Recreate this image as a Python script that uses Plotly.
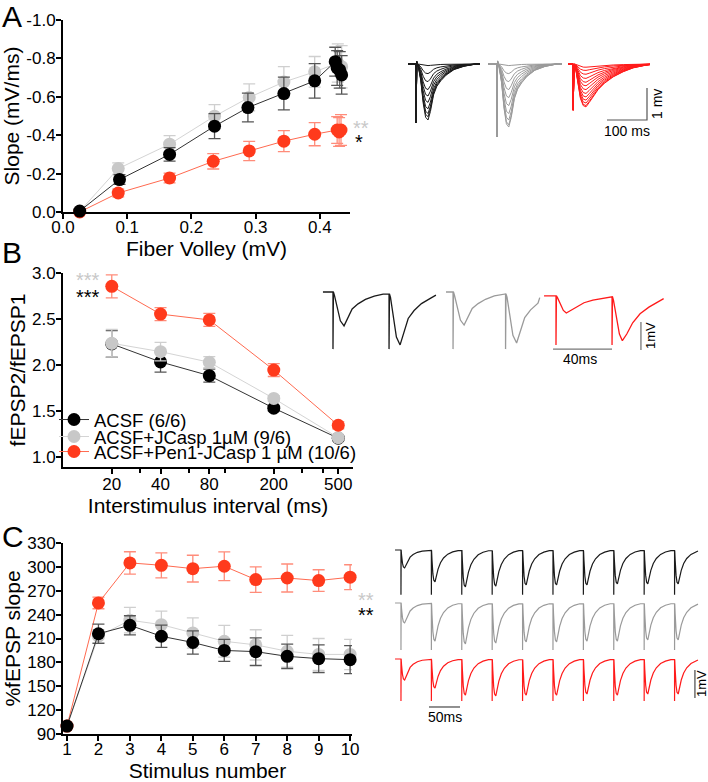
import plotly.graph_objects as go

W, H = 708, 782
FONT = "Arial, 'Liberation Sans', sans-serif"

# ---------------- Panel A: input-output ----------------
A_BLACK_X = [0.026, 0.088, 0.166, 0.236, 0.288, 0.344, 0.392, 0.424, 0.427, 0.431, 0.434]
A_BLACK_Y = [-0.005, -0.169, -0.300, -0.447, -0.544, -0.617, -0.683, -0.783, -0.750, -0.740, -0.714]
A_BLACK_E = [0.01, 0.025, 0.035, 0.065, 0.075, 0.085, 0.09, 0.075, 0.09, 0.095, 0.1]
A_GRAY_X = [0.026, 0.086, 0.166, 0.236, 0.290, 0.344, 0.392, 0.428, 0.434]
A_GRAY_Y = [-0.003, -0.226, -0.353, -0.499, -0.597, -0.677, -0.730, -0.776, -0.757]
A_GRAY_E = [0.01, 0.03, 0.045, 0.06, 0.07, 0.08, 0.08, 0.1, 0.11]
A_RED_X = [0.026, 0.086, 0.166, 0.234, 0.290, 0.344, 0.392, 0.427, 0.430, 0.433]
A_RED_Y = [0.0, -0.099, -0.177, -0.264, -0.318, -0.369, -0.405, -0.427, -0.417, -0.427]
A_RED_E = [0.005, 0.02, 0.025, 0.04, 0.05, 0.055, 0.06, 0.07, 0.075, 0.08]
A_XTICKS = [0.0, 0.1, 0.2, 0.3, 0.4]
A_XTICKTEXT = ["0.0", "0.1", "0.2", "0.3", "0.4"]
A_YTICKS = [0.0, -0.2, -0.4, -0.6, -0.8, -1.0]
A_YTICKTEXT = ["0.0", "-0.2", "-0.4", "-0.6", "-0.8", "-1.0"]

# ---------------- Panel B: paired pulse ----------------
B_ISI = [20, 40, 80, 200, 500]
B_BLACK = [2.229, 2.033, 1.884, 1.531, 1.204]
B_BLACK_E = [0.145, 0.11, 0.07, 0.03, 0.02]
B_GRAY = [2.236, 2.145, 2.030, 1.636, 1.210]
B_GRAY_E = [0.15, 0.10, 0.06, 0.03, 0.02]
B_RED = [2.855, 2.553, 2.490, 1.945, 1.345]
B_RED_E = [0.125, 0.07, 0.07, 0.07, 0.04]
B_XTICKS = [20, 40, 80, 200, 500]
B_MINOR = [30, 60, 100, 300, 400]
B_YTICKS = [1.0, 1.5, 2.0, 2.5, 3.0]

# ---------------- Panel C: train ----------------
C_STIM = [1, 2, 3, 4, 5, 6, 7, 8, 9, 10]
C_BLACK = [100, 216, 226.6, 212.8, 205, 195, 193.5, 187.6, 184.7, 183.4]
C_BLACK_E = [2, 12, 12, 14, 14.7, 13.8, 17.4, 15.3, 17.4, 17.6]
C_GRAY = [100, 212.8, 233, 227.4, 217, 206.5, 202, 194, 190, 190]
C_GRAY_E = [2, 8, 16, 17, 19, 20, 19, 20, 20, 19]
C_RED = [100, 254.7, 305, 302, 297.8, 300.8, 284, 286, 282.8, 287]
C_RED_E = [2, 7.3, 14, 15.7, 16.8, 18, 16, 17.6, 13.6, 15.7]
C_YTICKS = [90, 120, 150, 180, 210, 240, 270, 300, 330]

LEGEND_NAMES = ["ACSF (6/6)", "ACSF+JCasp 1µM (9/6)", "ACSF+Pen1-JCasp 1 µM (10/6)"]

# ---------------- example traces ----------------
# Panel A inset (ms, mV): fEPSP shape templates (time after stimulus, fraction of peak)
IO_TPL_T = [2, 6, 12, 18, 24, 30, 36, 44, 52, 62, 75, 95, 120, 150]
IO_TPL_F = [-0.05, 0.05, 0.3, 0.7, 0.95, 1.0, 0.85, 0.55, 0.4, 0.3, 0.2, 0.1, 0.04, 0.0]
IO_RED_TPL_T = [2, 6, 12, 18, 25, 32, 40, 50, 62, 78, 100, 125, 150, 180]
IO_RED_TPL_F = [0.0, 0.1, 0.45, 0.8, 0.97, 1.0, 0.9, 0.75, 0.6, 0.45, 0.3, 0.18, 0.09, 0.03]
IO_BLACK_AMPS = [0.05, 0.3, 0.55, 0.8, 1.0, 1.2, 1.4, 1.55, 1.65, 1.75]
IO_GRAY_AMPS = [0.05, 0.3, 0.55, 0.8, 1.05, 1.3, 1.55, 1.75, 1.9, 1.97]
IO_RED_AMPS = [0.1, 0.2, 0.32, 0.45, 0.57, 0.68, 0.8, 0.92, 1.03, 1.13, 1.22, 1.3, 1.34]
IO_BLACK_WIN = [20, 40, 200]     # start, stimulus, end (ms)
IO_GRAY_WIN = [220, 242, 405]
IO_RED_WIN = [420, 433, 625]
IO_ART = [1.84, 2.28, 1.44]      # artifact depth black, gray, red
IO_SCALE_T = [517.5, 617.5, 617.5]
IO_SCALE_V = [-1.75, -1.75, -0.75]

# Panel B inset (ms, mV)
PP_TPL_T = [1, 3, 5, 7.5, 10, 13, 17, 22, 28, 34]
PP_TPL_F = [0.1, 0.5, 0.85, 1.0, 0.75, 0.5, 0.35, 0.22, 0.12, 0.06]
PP_RED_TPL_T = [1, 3, 5, 7, 10, 14, 19, 25, 32, 38]
PP_RED_TPL_F = [0.1, 0.5, 0.85, 1.0, 0.85, 0.6, 0.4, 0.25, 0.12, 0.05]
PP_BLACK = dict(start=2, stims=[8.8, 46.8], end=78.6, amps=[1.21, 1.89], art=2.04, base=0.0)
PP_GRAY = dict(start=85.4, stims=[90.2, 125.8], end=149, amps=[1.18, 1.82], art=2.04, base=0.0)
PP_RED = dict(start=151.9, stims=[160, 198], end=233, amps=[0.61, 1.6], art=1.75, base=-0.14)
PP_SCALE_T = [158, 198, None, 217.6, 217.6]
PP_SCALE_V = [-2.04, -2.04, None, -1.07, -2.07]

# Panel C inset (ms, mV)
TR_TPL_T = [1, 2.5, 4, 6, 8, 11, 15, 20, 27, 35, 44]
TR_TPL_F = [0.3, 0.75, 0.95, 1.0, 0.85, 0.6, 0.4, 0.25, 0.13, 0.06, 0.02]
TR_STIMS = [34.5, 84.5, 134.5, 184.5, 234.5, 284.5, 334.5, 384.5, 434.5, 484.5]
TR_BLACK = dict(amps=[0.64, 1.14, 1.32, 1.29, 1.25, 1.25, 1.25, 1.21, 1.21, 1.21], art=1.6, base=0.0)
TR_GRAY = dict(amps=[0.71, 1.36, 1.46, 1.43, 1.39, 1.39, 1.36, 1.36, 1.32, 1.32], art=1.68, base=-1.893)
TR_RED = dict(amps=[0.75, 1.04, 1.29, 1.32, 1.29, 1.29, 1.25, 1.29, 1.25, 1.25], art=1.5, base=-3.893)
TR_WIN = [24.7, 523]
TR_SCALE_T = [80.6, 131.6, None, 518, 518]
TR_SCALE_V = [-5.607, -5.607, None, -4.286, -5.286]

# ---------------- colours ----------------
COL_BLK, COL_GRY, COL_RED = "#000000", "#c8c8c8", "#ff3a1c"
LN_BLK, LN_GRY, LN_RED = "#333333", "#d4d4d4", "#ff6a50"
ER_BLK, ER_GRY, ER_RED = "#555555", "#cfcfcf", "#ff8c7a"
TC_BLK, TC_GRY, TC_RED = "#1a1a1a", "#9a9a9a", "#ff1a1a"


def train(start, stims, end, amps, art, tpl_t, tpl_f, base):
    ts, vs = [start], [base]
    for s, a in zip(stims, amps):
        last = vs[-1]
        ts += [s, s, s + 0.3]
        vs += [last, base - art, last]
        for tt, ff in zip(tpl_t, tpl_f):
            if s + tt < end:
                ts.append(s + tt)
                vs.append(base - a * ff)
    ts.append(end)
    vs.append(vs[-1] * 0.5 + base * 0.5)
    return ts, vs


def sweeps(win, amps, art, tpl_t, tpl_f):
    ts, vs = [], []
    for a in amps:
        t, v = train(win[0], [win[1]], win[2], [a], art, tpl_t, tpl_f, 0.0)
        ts += t + [None]
        vs += v + [None]
    return ts, vs


fig = go.Figure()


def scatter(x, y, e, mc, lc, ec, xa, ya, name=None, legend=None):
    fig.add_trace(go.Scatter(
        x=x, y=y, mode="lines+markers", xaxis=xa, yaxis=ya,
        line=dict(color=lc, width=1),
        marker=dict(color=mc, size=13),
        error_y=dict(type="data", array=e, color=ec, thickness=1.3, width=6),
        cliponaxis=False, name=name or "", showlegend=legend is not None,
        legend=legend or "legend"))


# Panel A
scatter(A_GRAY_X, A_GRAY_Y, A_GRAY_E, COL_GRY, LN_GRY, ER_GRY, "x", "y")
scatter(A_RED_X, A_RED_Y, A_RED_E, COL_RED, LN_RED, ER_RED, "x", "y")
scatter(A_BLACK_X, A_BLACK_Y, A_BLACK_E, COL_BLK, LN_BLK, ER_BLK, "x", "y")
# Panel B
scatter(B_ISI, B_BLACK, B_BLACK_E, COL_BLK, LN_BLK, ER_BLK, "x2", "y2", LEGEND_NAMES[0], "legend")
scatter(B_ISI, B_GRAY, B_GRAY_E, COL_GRY, LN_GRY, ER_GRY, "x2", "y2", LEGEND_NAMES[1], "legend2")
scatter(B_ISI, B_RED, B_RED_E, COL_RED, LN_RED, ER_RED, "x2", "y2", LEGEND_NAMES[2], "legend3")
# Panel C
scatter(C_STIM, C_GRAY, C_GRAY_E, COL_GRY, LN_GRY, ER_GRY, "x3", "y3")
scatter(C_STIM, C_RED, C_RED_E, COL_RED, LN_RED, ER_RED, "x3", "y3")
scatter(C_STIM, C_BLACK, C_BLACK_E, COL_BLK, LN_BLK, ER_BLK, "x3", "y3")


def line(x, y, color, xa, ya, width=1):
    fig.add_trace(go.Scatter(x=x, y=y, mode="lines", xaxis=xa, yaxis=ya,
                             line=dict(color=color, width=width),
                             showlegend=False, hoverinfo="skip", connectgaps=False))


# inset A
t, v = sweeps(IO_BLACK_WIN, IO_BLACK_AMPS, IO_ART[0], IO_TPL_T, IO_TPL_F)
line(t, v, TC_BLK, "x4", "y4")
t, v = sweeps(IO_GRAY_WIN, IO_GRAY_AMPS, IO_ART[1], IO_TPL_T, IO_TPL_F)
line(t, v, TC_GRY, "x4", "y4")
t, v = sweeps(IO_RED_WIN, IO_RED_AMPS, IO_ART[2], IO_RED_TPL_T, IO_RED_TPL_F)
line(t, v, TC_RED, "x4", "y4")
line(IO_SCALE_T, IO_SCALE_V, "#555555", "x4", "y4", 1.2)

# inset B
for d, c, tt, ff in [(PP_BLACK, TC_BLK, PP_TPL_T, PP_TPL_F),
                     (PP_GRAY, TC_GRY, PP_TPL_T, PP_TPL_F),
                     (PP_RED, TC_RED, PP_RED_TPL_T, PP_RED_TPL_F)]:
    t, v = train(d["start"], d["stims"], d["end"], d["amps"], d["art"], tt, ff, d["base"])
    line(t, v, c, "x5", "y5", 1.3)
line(PP_SCALE_T, PP_SCALE_V, "#777777", "x5", "y5", 1.3)

# inset C
for d, c in [(TR_BLACK, TC_BLK), (TR_GRAY, TC_GRY), (TR_RED, TC_RED)]:
    t, v = train(TR_WIN[0], TR_STIMS, TR_WIN[1], d["amps"], d["art"], TR_TPL_T, TR_TPL_F, d["base"])
    line(t, v, c, "x6", "y6", 1.2)
line(TR_SCALE_T, TR_SCALE_V, "#555555", "x6", "y6", 1.3)


def px(x):
    return x / W


def py(y):
    return 1 - y / H


axis_common = dict(showline=True, linecolor="black", linewidth=2, ticks="outside",
                   ticklen=5, tickwidth=2, tickcolor="black", showgrid=False, zeroline=False,
                   automargin=False, tickfont=dict(size=17, color="black", family=FONT))
title_font = dict(size=21, color="black", family=FONT)
hidden = dict(visible=False, showgrid=False, zeroline=False, fixedrange=True, automargin=False)

fig.update_layout(
    width=W, height=H, autosize=False,
    margin=dict(l=0, r=0, t=0, b=0, autoexpand=False),
    paper_bgcolor="white", plot_bgcolor="white",
    font=dict(family=FONT, color="black"),
    xaxis=dict(domain=[px(63), px(350)], range=[0, 0.447], tickvals=A_XTICKS, ticktext=A_XTICKTEXT,
               ticklabelstandoff=-6,
               title=dict(text="Fiber Volley (mV)", font=title_font, standoff=0), anchor="y", **axis_common),
    yaxis=dict(domain=[py(212), py(20)], range=[0, -1.0], tickvals=A_YTICKS, ticktext=A_YTICKTEXT,
               ticklabelstandoff=-3,
               title=dict(text="Slope (mV/ms)", font=title_font, standoff=1), anchor="x", **axis_common),
    xaxis2=dict(domain=[px(63), px(353)], type="log", range=[1.0, 2.79], tickvals=B_XTICKS,
                ticklabelstandoff=-4,
                minor=dict(tickvals=B_MINOR, ticks="outside", ticklen=4, tickwidth=1.5, tickcolor="black"),
                title=dict(text="Interstimulus interval (ms)", font=title_font, standoff=2), anchor="y2",
                **axis_common),
    yaxis2=dict(domain=[py(467), py(273)], range=[0.891, 3.0], tickvals=B_YTICKS, tickformat=".1f",
                ticklabelstandoff=-3,
                title=dict(text="fEPSP2/fEPSP1", font=title_font, standoff=1), anchor="x2", **axis_common),
    xaxis3=dict(domain=[px(63), px(352)], range=[0.873, 10.06], tickvals=C_STIM,
                ticklabelstandoff=-6,
                title=dict(text="Stimulus number", font=title_font, standoff=0), anchor="y3", **axis_common),
    yaxis3=dict(domain=[py(734), py(543)], range=[90, 330], tickvals=C_YTICKS,
                ticklabelstandoff=-3,
                title=dict(text="%fEPSP slope", font=title_font, standoff=1), anchor="x3", **axis_common),
    xaxis4=dict(domain=[px(400), px(670)], range=[0, 675], anchor="y4", **hidden),
    yaxis4=dict(domain=[py(150), py(40)], range=[-2.6875, 0.75], anchor="x4", **hidden),
    xaxis5=dict(domain=[px(320), px(670)], range=[0, 237.3], anchor="y5", **hidden),
    yaxis5=dict(domain=[py(365), py(280)], range=[-2.607, 0.4286], anchor="x5", **hidden),
    xaxis6=dict(domain=[px(380), 1.0], range=[0, 539.5], anchor="y6", **hidden),
    yaxis6=dict(domain=[py(712), py(540)], range=[-5.786, 0.357], anchor="x6", **hidden),
)

leg_common = dict(font=dict(size=18.5, color="black", family=FONT), bgcolor="rgba(0,0,0,0)",
                  itemwidth=30, xanchor="left", yanchor="middle", tracegroupgap=0)
fig.update_layout(
    legend=dict(x=px(54), y=py(420), **leg_common),
    legend2=dict(x=px(54), y=py(437), **leg_common),
    legend3=dict(x=px(54), y=py(452), **leg_common),
)

ann = []


def text(x, y, s, size=16, color="black", angle=0, xanchor="center"):
    ann.append(dict(x=px(x), y=py(y), xref="paper", yref="paper", text=s, showarrow=False,
                    font=dict(size=size, color=color, family=FONT), textangle=angle,
                    xanchor=xanchor, yanchor="middle"))


# panel letters
text(12, 17, "A", 30)
text(12, 253, "B", 30)
text(13, 536, "C", 30)
# significance stars
text(361, 128, "**", 20, COL_GRY)
text(359, 142, "*", 20, COL_BLK)
text(88, 280, "***", 20, COL_GRY)
text(88, 297, "***", 20, COL_BLK)
text(366, 600, "**", 20, COL_GRY)
text(366, 615, "**", 20, COL_BLK)
# scale bar labels
text(627, 131, "100 ms", 14)
text(657, 104, "1 mv", 14, angle=-90)
text(580, 359, "40ms", 14)
text(650, 336, "1mV", 13, angle=-90)
text(445, 717, "50ms", 14)
text(701, 684, "1mV", 13, angle=-90)
fig.update_layout(annotations=ann)

fig.write_html("out.html", config={"displayModeBar": False},
               post_script="document.body.style.margin='0px';")
